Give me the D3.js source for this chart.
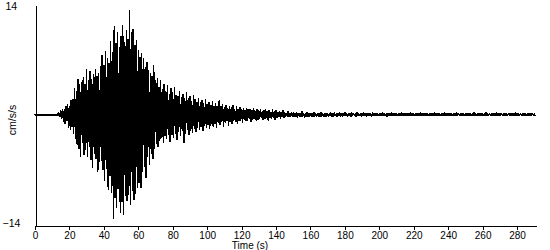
<!DOCTYPE html>
<html>
<head>
<meta charset="utf-8">
<script src="https://cdn.jsdelivr.net/npm/d3@7"></script>
<style>
  html, body { margin: 0; padding: 0; background: #fff; }
  svg { display: block; }
  text { font-family: "Liberation Sans", Arial, sans-serif; fill: #000; }
</style>
</head>
<body>
<svg id="chart" width="550" height="250"></svg>
<script>
// Sample interval (s) of the envelope arrays below
const sampleStep = 1;

// Upper envelope (cm/s/s) per second, t = 0 .. 290
const upperEnv = [
  .1,.1,.15,.1,.1,.1,.15,.1,.1,.1,.15,.1,.15,.2,
  .3,.6,.8,.7,1.1,1.4,
  1.2,1.9,2.0,3.4,3.0,4.6,3.9,4.2,4.8,4.0,
  5.9,4.5,5.6,4.6,5.2,5.8,4.9,5.4,6.2,7.6,
  6.3,8.1,7.2,6.6,9.4,8.0,11.3,9.2,10.6,8.7,
  10.1,11.5,9.3,10.8,9.7,13.3,10.5,11.0,8.9,9.6,
  8.3,7.4,7.9,7.2,6.1,6.8,5.7,5.3,4.9,6.4,
  4.4,4.7,3.6,4.5,3.3,3.9,3.0,3.8,2.7,3.4,
  2.9,3.5,2.6,2.4,3.0,2.3,2.7,2.2,2.9,2.1,
  2.4,1.8,2.5,2.0,1.7,2.2,1.6,1.9,1.5,2.0,
  1.4,1.7,1.3,1.8,1.2,1.5,1.1,1.9,1.2,1.4,
  1.0,1.3,.9,1.2,1.0,1.3,.8,1.1,.7,1.0,
  .8,.9,.6,.9,.7,.8,.6,.9,.5,.7,
  .6,.8,.5,.6,.7,.5,.6,.4,.7,.5,
  .6,.4,.5,.4,.6,.4,.3,.5,.3,.4,
  .35,.3,.4,.25,.3,.45,.3,.25,.35,.3,
  .25,.3,.35,.2,.3,.25,.4,.3,.2,.3,
  .25,.2,.3,.25,.35,.2,.25,.3,.2,.25,
  .3,.2,.25,.2,.3,.25,.2,.35,.2,.25,
  .2,.3,.2,.25,.2,.2,.3,.25,.2,.2,
  .25,.2,.3,.2,.2,.25,.2,.3,.2,.2,
  .25,.2,.2,.3,.2,.25,.2,.2,.3,.2,
  .2,.25,.2,.2,.3,.2,.2,.25,.2,.2,
  .25,.2,.3,.2,.2,.25,.2,.2,.3,.2,
  .2,.2,.25,.2,.2,.3,.2,.2,.25,.2,
  .2,.25,.2,.2,.2,.3,.2,.2,.25,.2,
  .2,.2,.3,.2,.25,.2,.2,.2,.3,.2,
  .2,.25,.2,.2,.2,.25,.2,.2,.2,.3,
  .2,.2,.25,.2,.2,.2,.25,.2,.2,.2,
  .2
];

// Lower envelope (cm/s/s) per second, t = 0 .. 290
const lowerEnv = [
  -.1,-.1,-.1,-.15,-.1,-.1,-.1,-.1,-.15,-.1,-.1,-.1,-.1,-.15,
  -.3,-.5,-.9,-1.2,-.8,-1.6,
  -1.9,-1.5,-2.4,-3.0,-3.8,-4.3,-5.3,-3.6,-5.1,-4.4,
  -5.4,-4.1,-5.7,-6.8,-4.9,-5.6,-7.3,-6.0,-5.8,-7.0,
  -8.4,-6.9,-9.5,-7.7,-9.9,-13.2,-10.6,-11.8,-9.4,-12.5,
  -11.1,-12.7,-10.3,-11.0,-10.2,-11.4,-9.7,-10.8,-10.0,-9.3,
  -8.7,-9.3,-7.2,-6.6,-8.0,-5.4,-6.3,-4.9,-5.6,-4.3,
  -3.7,-4.1,-3.3,-2.9,-3.6,-2.7,-3.1,-2.5,-3.4,-2.6,
  -2.9,-2.4,-3.2,-2.2,-2.7,-2.0,-3.5,-2.4,-1.9,-2.6,
  -2.0,-2.3,-1.8,-2.1,-1.6,-1.9,-1.5,-2.0,-1.4,-1.7,
  -1.3,-1.8,-1.2,-1.5,-1.1,-1.6,-1.0,-1.3,-.9,-1.5,
  -1.0,-.8,-1.4,-.9,-1.1,-.7,-.9,-1.2,-.8,-.7,
  -1.0,-.6,-.8,-.7,-.5,-.9,-.6,-.5,-.7,-.6,
  -.5,-.4,-.6,-.5,-.4,-.8,-.4,-.5,-.4,-.6,
  -.4,-.3,-.5,-.3,-.4,-.3,-.2,-.3,-.3,-.2,
  -.3,-.25,-.35,-.2,-.3,-.25,-.4,-.2,-.3,-.25,
  -.2,-.3,-.2,-.25,-.2,-.3,-.2,-.2,-.25,-.2,
  -.2,-.15,-.25,-.2,-.15,-.2,-.15,-.2,-.25,-.15,
  -.15,-.2,-.15,-.2,-.15,-.15,-.2,-.15,-.15,-.2,
  -.15,-.15,-.2,-.1,-.15,-.2,-.15,-.1,-.15,-.15,
  -.15,-.1,-.15,-.15,-.2,-.1,-.15,-.15,-.1,-.15,
  -.15,-.1,-.15,-.15,-.1,-.15,-.15,-.1,-.15,-.15,
  -.1,-.15,-.15,-.1,-.15,-.1,-.15,-.15,-.1,-.15,
  -.15,-.1,-.15,-.1,-.15,-.15,-.1,-.15,-.1,-.15,
  -.1,-.15,-.15,-.1,-.15,-.1,-.1,-.15,-.15,-.1,
  -.15,-.1,-.15,-.1,-.1,-.15,-.1,-.15,-.1,-.1,
  -.15,-.1,-.1,-.15,-.1,-.15,-.1,-.1,-.15,-.1,
  -.1,-.15,-.1,-.1,-.15,-.1,-.1,-.15,-.1,-.1,
  -.15,-.1,-.1,-.15,-.1,-.1,-.15,-.1,-.1,-.1,
  -.1
];

const xTicks = [0,20,40,60,80,100,120,140,160,180,200,220,240,260,280];
const yTicks = [-14, 14];
const xDomain = [0, 291];
const yDomain = [-14, 14];
const xTitle = "Time (s)";
const yTitle = "cm/s/s";

const svg = d3.select("#chart");
const x = d3.scaleLinear().domain(xDomain).range([35, 536]);
const y = d3.scaleLinear().domain(yDomain).range([225, 5]);

// Build the zig-zag trace from envelope samples
const pts = [];
upperEnv.forEach((u, i) => {
  const t = i * sampleStep;
  pts.push([t, u]);
  pts.push([t + sampleStep / 2, lowerEnv[i]]);
});

const line = d3.line().x(d => x(d[0])).y(d => y(d[1]));
svg.append("path")
  .datum(pts)
  .attr("d", line)
  .attr("fill", "none")
  .attr("stroke", "#000")
  .attr("stroke-width", 1.3)
  .attr("stroke-linejoin", "bevel")
  .attr("shape-rendering", "crispEdges");

// X axis
const xAxis = d3.axisBottom(x).tickValues(xTicks).tickSize(4).tickSizeOuter(0).tickPadding(2);
const gx = svg.append("g").attr("transform", "translate(0,225.5)").call(xAxis);
gx.select(".domain").attr("stroke", "#000").attr("shape-rendering", "crispEdges");
gx.selectAll(".tick line").attr("stroke", "#000").attr("shape-rendering", "crispEdges");
gx.selectAll("text").style("font-size", "10px").attr("fill", "#000");

// Y axis
const yAxis = d3.axisLeft(y).tickValues(yTicks).tickSize(0).tickSizeOuter(0).tickPadding(16);
const gy = svg.append("g").attr("transform", "translate(35.5,0)").call(yAxis);
gy.select(".domain").attr("stroke", "#000").attr("shape-rendering", "crispEdges");
gy.selectAll("text").style("font-size", "10.5px").attr("fill", "#000")
  .attr("text-anchor", "start").attr("x", d => d < 0 ? -33 : -30)
  .attr("dy", d => d < 0 ? "0.1em" : "0.45em");

// Titles
svg.append("text").attr("x", 250).attr("y", 249).attr("text-anchor", "middle")
  .style("font-size", "10px").text(xTitle);
svg.append("text").attr("transform", "translate(16,120) rotate(-90)")
  .attr("text-anchor", "middle").style("font-size", "10.5px").text(yTitle);
</script>
</body>
</html>
